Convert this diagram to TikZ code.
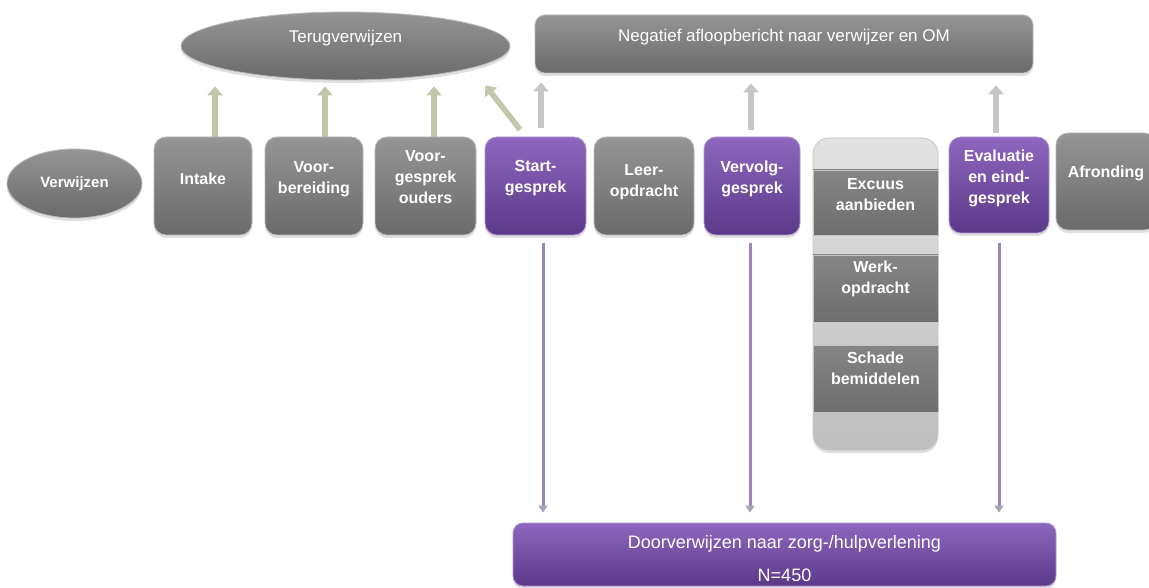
\documentclass[tikz,border=0pt]{standalone}
\usepackage{fontspec}
\setmainfont{Liberation Sans}
\usetikzlibrary{arrows.meta,shadows,shapes.geometric,calc}
\pgfdeclarelayer{bg}
\pgfsetlayers{bg,main}
\definecolor{gtop}{HTML}{959595}
\definecolor{gbot}{HTML}{6A6A6A}
\definecolor{ptop}{HTML}{8D67BE}
\definecolor{pbot}{HTML}{5B3989}
\definecolor{ltop}{HTML}{E2E2E2}
\definecolor{lbot}{HTML}{BEBEBE}
\definecolor{btop}{HTML}{858585}
\definecolor{bbot}{HTML}{6E6E6E}
\definecolor{olivec}{HTML}{C2C7AB}
\definecolor{lgreyc}{HTML}{C6C6C6}
\definecolor{lavc}{HTML}{9C85BE}
\definecolor{headc}{HTML}{A9A4AF}
\begin{document}
\begin{tikzpicture}[x=1pt,y=-1pt,
  shad/.style={drop shadow={shadow xshift=0pt,shadow yshift=-3pt,opacity=0.25}},
  gbox/.style={rectangle,rounded corners=12pt,minimum width=100pt,minimum height=98pt,inner sep=0pt,
    top color=gtop,bottom color=gbot,draw=gray!55,line width=0.8pt,shad},
  pbox/.style={gbox,top color=ptop,bottom color=pbot,draw=ptop!70!white},
  gell/.style={ellipse,inner sep=0pt,top color=gtop,bottom color=gbot,draw=gray!55,line width=0.8pt,shad},
  band/.style={rectangle,minimum width=125pt,inner sep=0pt,top color=btop,bottom color=bbot,draw=gray!45,line width=0.6pt},
  lab/.style={text=white,font=\bfseries\fontsize{16}{21}\selectfont,align=center},
  txt/.style={text=white,font=\fontsize{17}{20}\selectfont,align=center},
  boxtext/.style={label={[lab,yshift=7pt]center:#1}},
  oarrow/.style={draw=olivec,line width=5.5pt,-{Triangle[width=15pt,length=9pt]}},
  garrow/.style={draw=lgreyc,line width=5.5pt,-{Triangle[width=15pt,length=9pt]}},
  parrow/.style={draw=lavc,line width=3pt,-{Triangle[width=9pt,length=7pt,color=headc]}}
]
\useasboundingbox (0,0) rectangle (1149,588);
\begin{pgfonlayer}{bg}
\fill[white] (0,0) rectangle (1149,588);
\end{pgfonlayer}
\clip (0,0) rectangle (1149,588);

% top targets
\node[gell,minimum width=329pt,minimum height=68pt,label={[txt,yshift=8pt]center:Terugverwijzen}] (terug) at (345.5,46) {};
\node[gbox,minimum width=498pt,minimum height=58pt,rounded corners=10pt,
  label={[txt,yshift=7pt]center:Negatief afloopbericht naar verwijzer en OM}] (neg) at (784,44) {};

% row
\node[gell,minimum width=135pt,minimum height=69pt,
  label={[lab,font=\bfseries\fontsize{15}{18}\selectfont]center:Verwijzen}] (verw) at (74.5,183.5) {};
\node[gbox,minimum width=98pt,boxtext=Intake] (intake) at (203,186) {};
\node[gbox,minimum width=98pt,boxtext={Voor-\\bereiding}] (voorb) at (314,186) {};
\node[gbox,minimum width=101pt,label={[lab,yshift=9pt]center:{Voor-\\gesprek\\ouders}}] (voorg) at (425.5,186) {};
\node[pbox,minimum width=101pt,label={[lab,yshift=8pt]center:{Start-\\gesprek}}] (start) at (535.5,186) {};
\node[gbox,label={[lab,yshift=4pt]center:{Leer-\\opdracht}}] (leer) at (644,186) {};
\node[pbox,minimum width=96pt,boxtext={Vervolg-\\gesprek}] (vervolg) at (752,186) {};

% column
\node[rectangle,rounded corners=16pt,minimum width=125pt,minimum height=312pt,inner sep=0pt,
  top color=ltop,bottom color=lbot,draw=gray!45,line width=0.8pt,shad] (col) at (875.5,294) {};
\node[band,minimum height=65pt,label={[lab,yshift=8pt]center:{Excuus\\aanbieden}}] (exc) at (875.5,202.5) {};
\node[band,minimum height=67pt,label={[lab,yshift=10pt]center:{Werk-\\opdracht}}] (werk) at (875.5,288.5) {};
\node[band,minimum height=67pt,label={[lab,yshift=10pt]center:{Schade\\bemiddelen}}] (schade) at (875.5,378.5) {};

\node[pbox,minimum height=96pt,boxtext={Evaluatie\\en eind-\\gesprek}] (eval) at (999,185) {};
\node[gbox,minimum height=97pt,label={[lab,yshift=8pt]center:Afronding}] (afr) at (1106,181.5) {};

% bottom
\node[pbox,minimum width=543pt,minimum height=63pt,rounded corners=10pt,
  label={[txt,font=\fontsize{18}{33}\selectfont,yshift=-4pt]center:{Doorverwijzen naar zorg-/hulpverlening\\N=450}}] (door) at (784.5,554.5) {};

% arrows to Terugverwijzen (start behind the boxes)
\begin{pgfonlayer}{bg}
\draw[oarrow] ($(intake.north)+(12,4)$) -- ($(intake.north |- terug.south)+(12,6)$);
\draw[oarrow] ($(voorb.north)+(11,4)$) -- ($(voorb.north |- terug.south)+(11,6)$);
\draw[oarrow] ($(voorg.north)+(8.5,4)$) -- ($(voorg.north |- terug.south)+(8.5,6)$);
\end{pgfonlayer}

% diagonal arrow to Terugverwijzen
\draw[oarrow] ($(start.north)+(-15.5,-7)$) -- ($(terug.south)+(140,5)$);

% arrows to Negatief
\draw[garrow] ($(start.north)+(5.5,-9)$) -- ($(start.north |- neg.south)+(5.5,9)$);
\draw[garrow] ($(vervolg.north)+(-1,-7)$) -- ($(vervolg.north |- neg.south)+(-1,10)$);
\draw[garrow] ($(eval.north)+(-3,-4)$) -- ($(eval.north |- neg.south)+(-3,12)$);

% arrows to Doorverwijzen
\draw[parrow] ($(start.south)+(7.5,8)$) -- ($(start.south |- door.north)+(7.5,-10)$);
\draw[parrow] ($(vervolg.south)+(-2,8)$) -- ($(vervolg.south |- door.north)+(-2,-10)$);
\draw[parrow] ($(eval.south)+(0,10)$) -- ($(eval.south |- door.north)+(0,-10)$);
\end{tikzpicture}
\end{document}
